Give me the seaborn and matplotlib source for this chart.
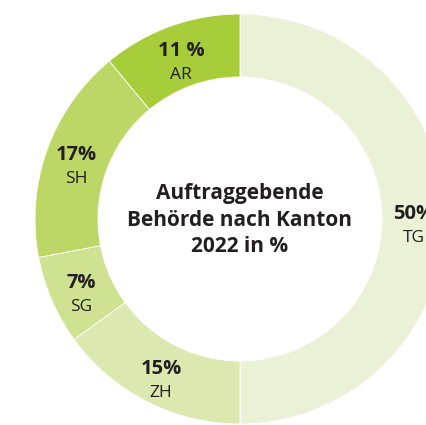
import numpy as np
import matplotlib
matplotlib.use('Agg')
import matplotlib.pyplot as plt
import seaborn as sns

# Daten
kantone = ['TG', 'ZH', 'SG', 'SH', 'AR']
anteile = [50, 15, 7, 17, 11]
prozent_labels = ['50%', '15%', '7%', '17%', '11 %']
farben = ['#ebf1d6', '#dbe8b0', '#cfe291', '#bcd765', '#a8cd3a']
titel = 'Auftraggebende\nBehörde nach Kanton\n2022 in %'

sns.set_style('white')
plt.rcParams['font.family'] = ['Open Sans', 'DejaVu Sans']

fig = plt.figure(figsize=(4.27, 4.25), dpi=100)
ax = fig.add_axes([0, 0, 1, 1])

cx, cy = 240, 425 - 219
r_out, r_in = 205, 142
wedges, _ = ax.pie(anteile, colors=farben, startangle=90, counterclock=False,
                   center=(cx, cy), radius=r_out, frame=True,
                   wedgeprops=dict(width=r_out - r_in, edgecolor='white', linewidth=0.6))
ax.set_xlim(0, 427)
ax.set_ylim(0, 425)
ax.set_aspect('equal')
ax.axis('off')

r_lab = (r_out + r_in) / 2
for w, pct, name in zip(wedges, prozent_labels, kantone):
    ang = np.deg2rad((w.theta1 + w.theta2) / 2)
    x = cx + r_lab * np.cos(ang)
    y = cy + r_lab * np.sin(ang)
    ax.text(x, y + 5, pct, ha='center', va='center', fontsize=14.5, fontweight='bold', color='#231f20')
    ax.text(x, y - 19, name, ha='center', va='center', fontsize=12.5, color='#231f20')

ax.text(cx, cy - 1, titel, ha='center', va='center', fontsize=15, fontweight='bold',
        color='#231f20', linespacing=1.32)

fig.savefig('out.png', dpi=100)
